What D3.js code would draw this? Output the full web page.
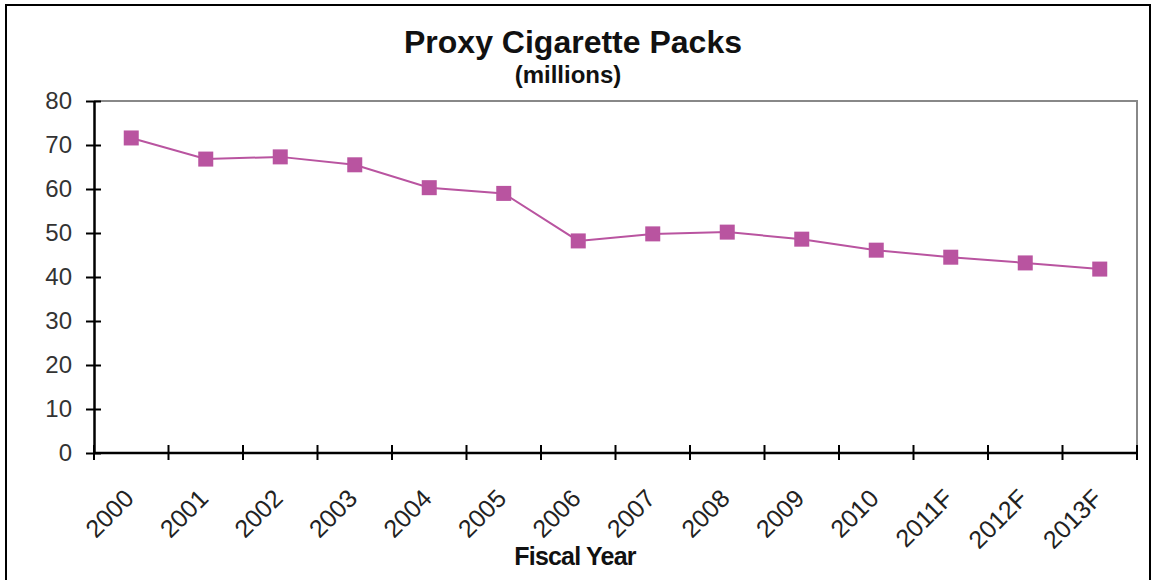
<!DOCTYPE html>
<html>
<head>
<meta charset="utf-8">
<script src="https://cdn.jsdelivr.net/npm/d3@7"></script>
<style>
  body { margin: 0; background: #fff; }
  text { font-family: "Liberation Sans", Arial, sans-serif; }
</style>
</head>
<body>
<script>
// data
var years = ["2000", "2001", "2002", "2003", "2004", "2005", "2006",
             "2007", "2008", "2009", "2010", "2011F", "2012F", "2013F"];
var packs = [71.6, 66.8, 67.3, 65.5, 60.3, 59.0, 48.2,
             49.8, 50.2, 48.6, 46.1, 44.5, 43.2, 41.8];
var yTicks = [0, 10, 20, 30, 40, 50, 60, 70, 80];

var w = 1153, h = 580;
var plotLeft = 94, plotRight = 1137, plotTop = 101, plotBottom = 453;
var color = "#B954A0";

var svg = d3.select("body").append("svg")
    .attr("width", w)
    .attr("height", h);

// outer frame
svg.append("rect")
    .attr("x", 6).attr("y", 5)
    .attr("width", 1144).attr("height", 600)
    .attr("fill", "none")
    .attr("stroke", "#000")
    .attr("stroke-width", 2);

var xScale = d3.scaleBand()
    .domain(years)
    .range([plotLeft, plotRight]);

var yScale = d3.scaleLinear()
    .domain([0, 80])
    .range([plotBottom, plotTop]);

// plot border (top + right, gray)
svg.append("path")
    .attr("d", "M" + plotLeft + "," + plotTop + "H" + plotRight + "V" + plotBottom)
    .attr("fill", "none")
    .attr("stroke", "#888")
    .attr("stroke-width", 2);

// y axis
var yAxis = svg.append("g")
    .attr("transform", "translate(" + plotLeft + ",0)")
    .call(d3.axisLeft(yScale).tickValues(yTicks).tickSize(8).tickSizeOuter(0).tickPadding(14));
yAxis.select(".domain").attr("stroke", "#000").attr("stroke-width", 2.5);
yAxis.selectAll(".tick line").attr("x2", 7).attr("x1", -8).attr("stroke-width", 2);
yAxis.selectAll(".tick text")
    .attr("font-size", "24px")
    .attr("fill", "#333")
    .attr("font-family", "Liberation Sans, Arial, sans-serif");

// x axis with ticks on band edges
var xAxis = svg.append("g")
    .attr("transform", "translate(0," + plotBottom + ")");
xAxis.append("line")
    .attr("x1", plotLeft).attr("x2", plotRight)
    .attr("stroke", "#000").attr("stroke-width", 2.5);
var edges = years.map(function(d) { return xScale(d); }).concat([plotRight]);
xAxis.selectAll("line.tk")
    .data(edges)
    .enter().append("line")
    .attr("class", "tk")
    .attr("x1", function(d) { return d; })
    .attr("x2", function(d) { return d; })
    .attr("y1", -8).attr("y2", 7)
    .attr("stroke", "#000").attr("stroke-width", 2);
xAxis.selectAll("text")
    .data(years)
    .enter().append("text")
    .attr("text-anchor", "end")
    .attr("font-size", "25px")
    .attr("fill", "#222")
    .attr("transform", function(d) {
        var x = xScale(d) + xScale.bandwidth() / 2 + 4;
        return "translate(" + x + ",47) rotate(-45)";
    })
    .text(function(d) { return d; });

// line
var line = d3.line()
    .x(function(d, i) { return xScale(years[i]) + xScale.bandwidth() / 2; })
    .y(function(d) { return yScale(d); });

svg.append("path")
    .datum(packs)
    .attr("d", line)
    .attr("fill", "none")
    .attr("stroke", color)
    .attr("stroke-width", 2);

svg.selectAll("rect.pt")
    .data(packs)
    .enter().append("rect")
    .attr("class", "pt")
    .attr("x", function(d, i) { return xScale(years[i]) + xScale.bandwidth() / 2 - 7.5; })
    .attr("y", function(d) { return yScale(d) - 7.5; })
    .attr("width", 15).attr("height", 15)
    .attr("fill", color);

// titles
svg.append("text")
    .attr("x", 573).attr("y", 53)
    .attr("text-anchor", "middle")
    .attr("font-size", "32px")
    .attr("font-weight", "bold")
    .attr("fill", "#111")
    .text("Proxy Cigarette Packs");
svg.append("text")
    .attr("x", 568).attr("y", 83)
    .attr("text-anchor", "middle")
    .attr("font-size", "24px")
    .attr("font-weight", "bold")
    .attr("fill", "#111")
    .text("(millions)");
svg.append("text")
    .attr("x", 575).attr("y", 565)
    .attr("text-anchor", "middle")
    .attr("font-size", "25px")
    .attr("font-weight", "bold")
    .attr("letter-spacing", "-0.8px")
    .attr("fill", "#111")
    .text("Fiscal Year");
</script>
</body>
</html>
